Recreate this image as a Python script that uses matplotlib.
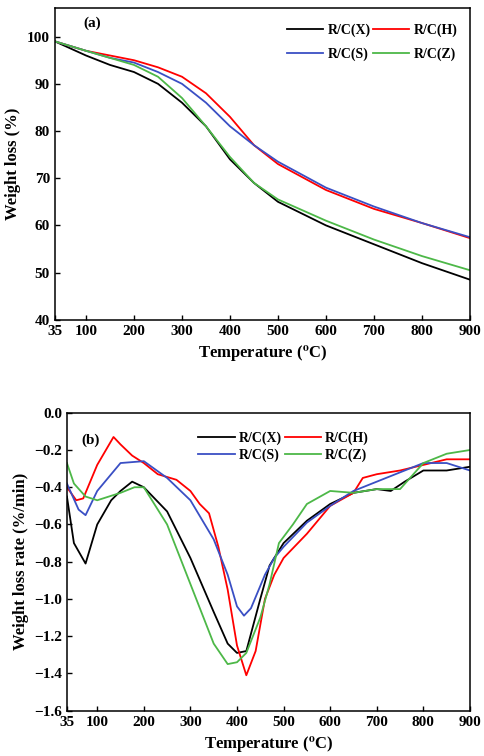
import matplotlib
matplotlib.use("Agg")
import matplotlib.pyplot as plt

plt.rcParams['font.family'] = ['Liberation Serif', 'DejaVu Serif']
plt.rcParams['font.weight'] = 'bold'
plt.rcParams['mathtext.fontset'] = 'stix'

labels = ['R/C(X)', 'R/C(H)', 'R/C(S)', 'R/C(Z)']
colors = ['black', 'red', '#3a4fc4', '#4db848']

# panel (a): weight loss (%)
ta = [35, 100, 150, 200, 250, 300, 350, 400, 450, 500, 600, 700, 800, 900]
wa_x = [99, 96, 94, 92.5, 90, 86, 81, 74, 69, 65, 60, 56, 52, 48.5]
wa_h = [99, 97, 96, 95, 93.5, 91.5, 88, 83, 77, 73, 67.5, 63.5, 60.5, 57.3]
wa_s = [99, 97, 95.5, 94.5, 92.5, 90, 86, 81, 77, 73.5, 68, 64, 60.5, 57.5]
wa_z = [99, 97, 95.5, 94, 91.5, 87, 81, 74.5, 69, 65.5, 61, 57, 53.5, 50.5]

# panel (b): weight loss rate (%/min)
tx = [35, 50, 75, 100, 130, 150, 175, 200, 250, 300, 350, 380, 400, 420, 450, 470, 500, 550, 600, 650, 700, 730, 760, 800, 850, 900]
rx = [-0.45, -0.7, -0.81, -0.6, -0.47, -0.42, -0.37, -0.4, -0.53, -0.78, -1.07, -1.24, -1.29, -1.28, -1.0, -0.82, -0.7, -0.58, -0.49, -0.43, -0.41, -0.42, -0.37, -0.31, -0.31, -0.29]
th = [35, 55, 70, 100, 135, 150, 175, 200, 230, 270, 300, 320, 340, 360, 380, 400, 420, 440, 460, 480, 500, 550, 600, 650, 670, 700, 750, 800, 850, 900]
rh = [-0.4, -0.47, -0.46, -0.28, -0.13, -0.17, -0.23, -0.27, -0.33, -0.36, -0.42, -0.49, -0.54, -0.72, -0.95, -1.25, -1.41, -1.28, -1.0, -0.87, -0.78, -0.65, -0.5, -0.43, -0.35, -0.33, -0.31, -0.28, -0.25, -0.25]
ts = [35, 60, 75, 100, 150, 200, 250, 300, 350, 380, 400, 415, 430, 460, 480, 500, 550, 600, 650, 700, 750, 800, 850, 900]
rs = [-0.38, -0.52, -0.55, -0.42, -0.27, -0.26, -0.35, -0.47, -0.68, -0.87, -1.04, -1.09, -1.05, -0.87, -0.78, -0.72, -0.59, -0.5, -0.42, -0.37, -0.32, -0.27, -0.27, -0.31]
tz = [35, 50, 75, 100, 150, 180, 200, 250, 300, 350, 380, 400, 420, 450, 470, 490, 520, 550, 600, 650, 700, 750, 800, 850, 900]
rz = [-0.27, -0.38, -0.45, -0.47, -0.43, -0.4, -0.4, -0.6, -0.92, -1.24, -1.35, -1.34, -1.29, -1.1, -0.92, -0.7, -0.6, -0.49, -0.42, -0.43, -0.41, -0.41, -0.27, -0.22, -0.2]

xticks = [35, 100, 200, 300, 400, 500, 600, 700, 800, 900]
xlab = r'Temperature ($^{\mathbf{o}}$C)'


def row_legend(ax, **kw):
    h, l = ax.get_legend_handles_labels()
    order = [0, 2, 1, 3]  # fill row-wise
    ax.legend([h[i] for i in order], [l[i] for i in order], ncol=2, frameon=False,
              fontsize=10, handlelength=2.6, columnspacing=0.2, handletextpad=0.3, **kw)


fig = plt.figure(figsize=(4.85, 7.56), dpi=100)
ax1 = fig.add_axes([0.113, 0.577, 0.856, 0.412])
ax2 = fig.add_axes([0.138, 0.060, 0.831, 0.394])

for y, c, l in zip([wa_x, wa_h, wa_s, wa_z], colors, labels):
    ax1.plot(ta, y, color=c, lw=1.3, label=l)
ax1.set_xlim(35, 900)
ax1.set_ylim(40, 106)
ax1.set_yticks(range(40, 101, 10))
ax1.set_xticks(xticks)
ax1.set_xlabel(xlab, fontsize=12, fontweight='bold')
ax1.set_ylabel('Weight loss (%)', fontsize=12, fontweight='bold')
ax1.text(0.07, 0.975, '(a)', transform=ax1.transAxes, fontsize=11, fontweight='bold', va='top')
row_legend(ax1, loc='upper right', bbox_to_anchor=(1.0, 0.99), labelspacing=0.7)

for xx, y, c, l in zip([tx, th, ts, tz], [rx, rh, rs, rz], colors, labels):
    ax2.plot(xx, y, color=c, lw=1.3, label=l)
ax2.set_xlim(35, 900)
ax2.set_ylim(-1.6, 0.0)
ax2.set_yticks([-1.6, -1.4, -1.2, -1.0, -0.8, -0.6, -0.4, -0.2, 0.0])
ax2.set_xticks(xticks)
ax2.set_xlabel(xlab, fontsize=12, fontweight='bold')
ax2.set_ylabel('Weight loss rate (%/min)', fontsize=12, fontweight='bold')
ax2.text(0.035, 0.93, '(b)', transform=ax2.transAxes, fontsize=11, fontweight='bold', va='top')
row_legend(ax2, loc='upper right', bbox_to_anchor=(0.78, 0.98), labelspacing=0.3)

for ax in (ax1, ax2):
    ax.tick_params(direction='in', labelsize=11, width=1)
    for lab in ax.get_xticklabels() + ax.get_yticklabels():
        lab.set_fontweight('bold')
    for sp in ax.spines.values():
        sp.set_linewidth(1.1)

fig.savefig('out.png', dpi=100)
